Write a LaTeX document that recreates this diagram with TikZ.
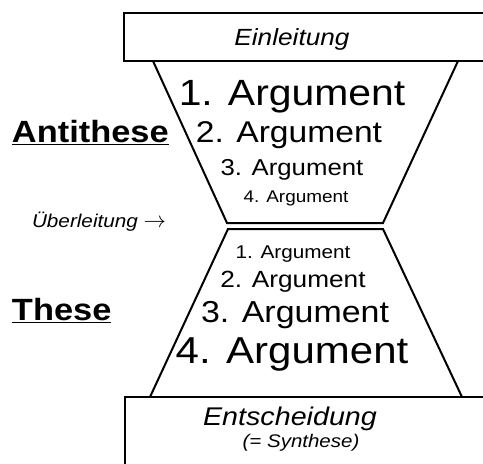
\documentclass[tikz,border=0pt]{standalone}
\usepackage{fontspec}
\setmainfont{Liberation Sans}[FakeStretch=1.12]
\newcommand{\fsz}[1]{\fontsize{#1}{#1}\selectfont}

\begin{document}
\begin{tikzpicture}[x=1pt, y=-1pt, line width=2pt,
    arg/.style={anchor=base, inner sep=0pt},
    side/.style={anchor=base west, inner sep=0pt, font=\fsz{30.7}\bfseries}]
  \useasboundingbox (0,0) rectangle (483,464);
  \clip (0,0) rectangle (483,464);
  % Rahmen oben und unten
  \draw (124,13) rectangle (520,61);
  \draw (125,397) rectangle (520,490);
  % Trichter
  \draw (153,61) -- (227,223) -- (383,223) -- (458,61);
  \draw (150,397) -- (228,229) -- (383,229) -- (462,397);
  \node[arg, font=\fsz{23.4}\itshape] (einl) at (292,45) {Einleitung};
  % Antithese
  \node[arg, font=\fsz{36.5}] (a1) at (292,105) {1. Argument};
  \node[arg, font=\fsz{30}] (a2) at (289,142) {2. Argument};
  \node[arg, font=\fsz{23}] (a3) at (292,175) {3. Argument};
  \node[arg, font=\fsz{16.9}] (a4) at (296,202) {4. Argument};
  \node[side] (anti) at (11,142) {\underline{Antithese}};
  \node[anchor=base west, inner sep=0pt, font=\fsz{18.5}\itshape] (ueber) at (31,227)
    {Überleitung \scalebox{1.3}{$\rightarrow$}};
  % These
  \node[arg, font=\fsz{18.5}] (t1) at (293,258) {1. Argument};
  \node[arg, font=\fsz{23.4}] (t2) at (293,287) {2. Argument};
  \node[arg, font=\fsz{30.3}] (t3) at (295,322) {3. Argument};
  \node[arg, font=\fsz{37.5}] (t4) at (292,363) {4. Argument};
  \node[side] (these) at (11,320) {\underline{These}};
  \node[arg, font=\fsz{25.6}\itshape] (ents) at (290,425) {Entscheidung};
  \node[arg, font=\fsz{18.3}\itshape] (synth) at (301,447) {(= Synthese)};
\end{tikzpicture}
\end{document}
